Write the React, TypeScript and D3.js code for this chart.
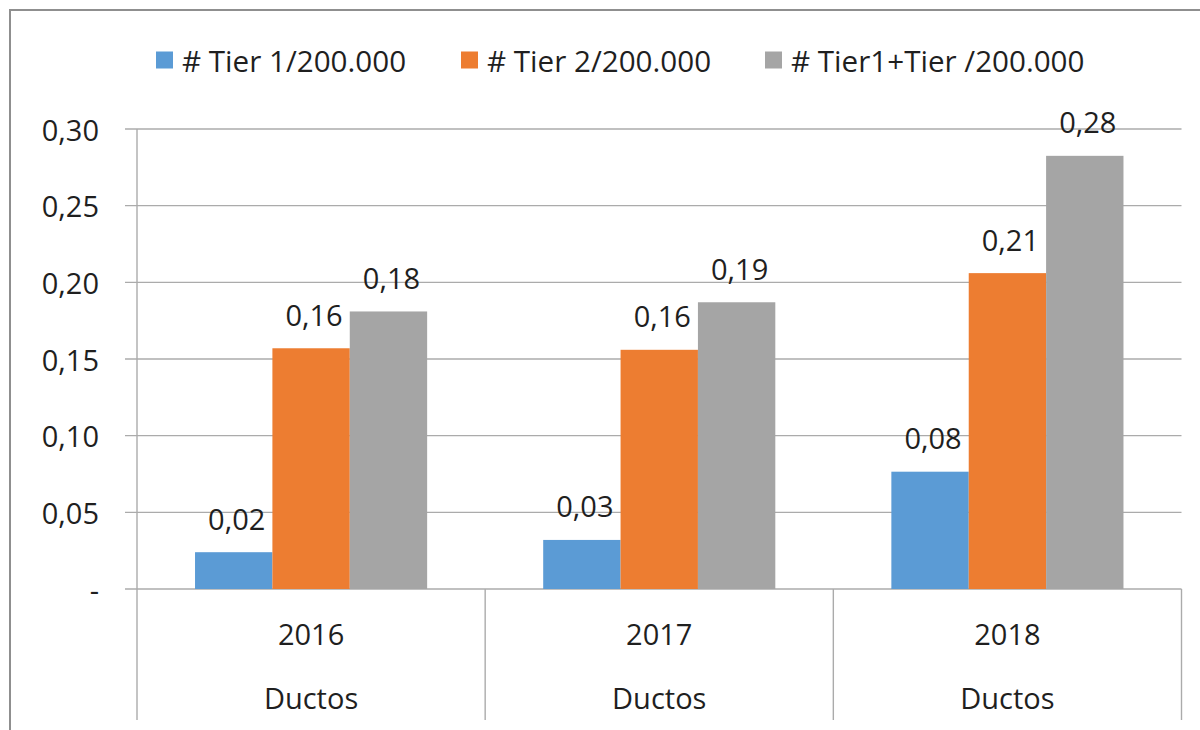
import React from "react";
import * as d3 from "d3";

const years = ["2016", "2017", "2018"];
const groupLabel = "Ductos";
const seriesNames = ["# Tier 1/200.000", "# Tier 2/200.000", "# Tier1+Tier /200.000"];
const seriesColors = ["#5B9BD5", "#ED7D31", "#A5A5A5"];
const tier1 = [0.024, 0.032, 0.0765];
const tier2 = [0.157, 0.156, 0.206];
const tierSum = [0.181, 0.187, 0.2825];
const yTicks = [0, 0.05, 0.1, 0.15, 0.2, 0.25, 0.3];

const W = 1200;
const H = 730;
const FONT = "'Open Sans', 'Noto Sans', sans-serif";
const FS = 29;
const TEXT = "#1f1f1f";
const GRID = "#ABABAB";

const fmt = (v: number) => (v === 0 ? "-" : d3.format(".2f")(v).replace(".", ","));

export default function App() {
  const left = 137;
  const right = 1181.5;
  const top = 129;
  const bottom = 589;
  const y = d3.scaleLinear().domain([0, 0.3]).range([bottom, top]);
  const x0 = d3.scaleBand<string>().domain(years).range([left, right]).padding(0);
  const x1 = d3
    .scaleBand<number>()
    .domain([0, 1, 2])
    .range([0, x0.bandwidth()])
    .paddingInner(0)
    .paddingOuter(0.75);
  const series = [tier1, tier2, tierSum];
  const legendX = [156, 461, 765];

  return (
    <svg
      width={W}
      height={H}
      style={{ position: "absolute", left: 0, top: 0, background: "#fff" }}
      fontFamily={FONT}
    >
      <rect x={0} y={0} width={W} height={H} fill="#fff" />
      {/* outer border */}
      <path d={`M10,${H} V10 H${W}`} fill="none" stroke="#8F8F8F" strokeWidth={2} />

      {/* legend */}
      {seriesNames.map((name, i) => (
        <g key={name} transform={`translate(${legendX[i]},60)`}>
          <rect x={0} y={-8.5} width={17} height={17} fill={seriesColors[i]} />
          <text x={26} y={0} dominantBaseline="central" fontSize={29.6} fill={TEXT}>
            {name}
          </text>
        </g>
      ))}

      {/* gridlines & y labels */}
      {yTicks.map((t) => (
        <g key={t}>
          <line x1={125} x2={right} y1={y(t)} y2={y(t)} stroke={GRID} strokeWidth={1.4} />
          <text
            x={99}
            y={y(t)}
            textAnchor="end"
            dominantBaseline="central"
            fontSize={FS}
            fill={TEXT}
          >
            {fmt(t)}
          </text>
        </g>
      ))}
      <line x1={left} x2={left} y1={top} y2={bottom} stroke={GRID} strokeWidth={1.4} />

      {/* bars */}
      {years.map((yr, ci) => (
        <g key={yr} transform={`translate(${x0(yr)},0)`}>
          {series.map((s, si) => (
            <rect
              key={si}
              x={x1(si)}
              y={y(s[ci])}
              width={x1.bandwidth()}
              height={y(0) - y(s[ci])}
              fill={seriesColors[si]}
            />
          ))}
        </g>
      ))}

      {/* data labels */}
      {years.map((yr, ci) =>
        series.map((s, si) => (
          <text
            key={`${yr}-${si}`}
            x={(x0(yr) as number) + (x1(si) as number) + x1.bandwidth() / 2 + 3}
            y={y(s[ci]) - 34}
            textAnchor="middle"
            dominantBaseline="central"
            fontSize={FS}
            fill={TEXT}
          >
            {fmt(s[ci])}
          </text>
        ))
      )}

      {/* category axis */}
      {[...years.map((yr) => x0(yr) as number), right].map((bx, i) => (
        <line key={i} x1={bx} x2={bx} y1={bottom} y2={720} stroke={GRID} strokeWidth={1.4} />
      ))}
      {years.map((yr) => {
        const cx = (x0(yr) as number) + x0.bandwidth() / 2;
        return (
          <g key={yr}>
            <text x={cx} y={633} textAnchor="middle" dominantBaseline="central" fontSize={FS} fill={TEXT}>
              {yr}
            </text>
            <text x={cx} y={697} textAnchor="middle" dominantBaseline="central" fontSize={FS} fill={TEXT}>
              {groupLabel}
            </text>
          </g>
        );
      })}
    </svg>
  );
}
